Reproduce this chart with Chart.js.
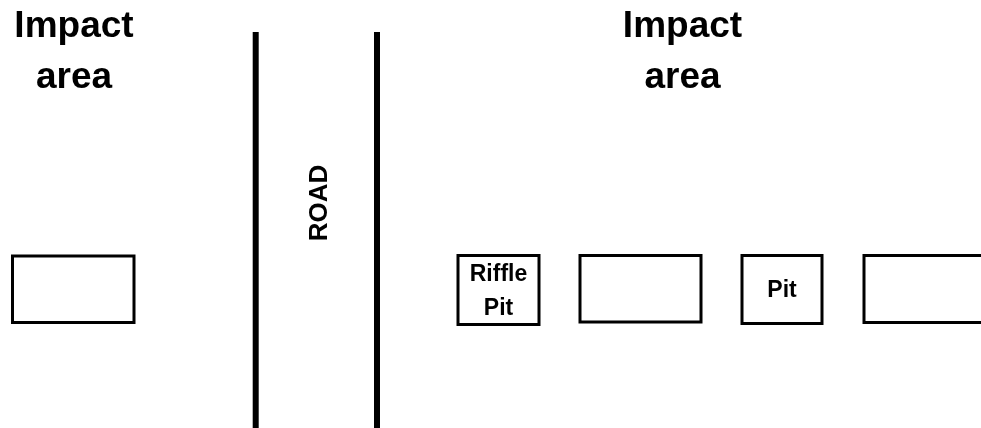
<!DOCTYPE html>
<html>
<head>
<meta charset="utf-8">
<script src="https://cdn.jsdelivr.net/npm/chart.js@4.4.1/dist/chart.umd.min.js"></script>
<style>
html,body{margin:0;padding:0;background:#fff;}
#c{display:block;}
</style>
</head>
<body>
<canvas id="c" width="981" height="428"></canvas>
<script>
// Diagram elements (data units = page pixels on a 981 x 428 plane, y downward)
const boxX0 = [12.5, 458, 580, 742, 864];
const boxX1 = [134, 539, 701, 822, 995];
const boxY0 = [256, 255.5, 255.5, 255.5, 255.5];
const boxY1 = [322.5, 324.5, 322, 323.5, 322.5];
const boxLabels = [[], ['Riffle', 'Pit'], [], ['Pit'], []];
const boxLabelBaselines = [[], [281, 315], [], [297], []];

const roadX = [255.7, 377];
const roadTop = [32, 32];
const roadBottom = [430, 430];
const roadLabel = 'ROAD';
const roadLabelPos = [327, 203];

const areaLabels = [['Impact', 'area'], ['Impact', 'area']];
const areaLabelX = [74, 682.5];
const areaLabelBaselines = [37, 88];

const datasets = [];
for (let i = 0; i < boxX0.length; i++) {
  datasets.push({
    data: [
      {x: boxX0[i], y: boxY0[i]}, {x: boxX1[i], y: boxY0[i]},
      {x: boxX1[i], y: boxY1[i]}, {x: boxX0[i], y: boxY1[i]},
      {x: boxX0[i], y: boxY0[i]}, {x: boxX1[i], y: boxY0[i]}
    ],
    borderColor: '#000', borderWidth: 3, borderJoinStyle: 'miter',
    pointRadius: 0, fill: false, tension: 0
  });
}
for (let i = 0; i < roadX.length; i++) {
  datasets.push({
    data: [{x: roadX[i], y: roadTop[i]}, {x: roadX[i], y: roadBottom[i]}],
    borderColor: '#000', borderWidth: 6, borderCapStyle: 'butt',
    pointRadius: 0, fill: false
  });
}

const textPlugin = {
  id: 'diagramText',
  afterDatasetsDraw(chart) {
    const ctx = chart.ctx, xs = chart.scales.x, ys = chart.scales.y;
    ctx.save();
    ctx.fillStyle = '#000';
    ctx.textAlign = 'center';
    ctx.textBaseline = 'alphabetic';
    ctx.font = 'bold 37px "Liberation Sans", Arial, sans-serif';
    areaLabels.forEach((lines, i) => {
      lines.forEach((t, j) => {
        ctx.fillText(t, xs.getPixelForValue(areaLabelX[i]), ys.getPixelForValue(areaLabelBaselines[j]));
      });
    });
    ctx.font = 'bold 23px "Liberation Sans", Arial, sans-serif';
    boxLabels.forEach((lines, i) => {
      const cx = (boxX0[i] + boxX1[i]) / 2;
      lines.forEach((t, j) => {
        ctx.fillText(t, xs.getPixelForValue(cx), ys.getPixelForValue(boxLabelBaselines[i][j]));
      });
    });
    ctx.font = 'bold 26px "Liberation Sans", Arial, sans-serif';
    ctx.translate(xs.getPixelForValue(roadLabelPos[0]), ys.getPixelForValue(roadLabelPos[1]));
    ctx.rotate(-Math.PI / 2);
    ctx.fillText(roadLabel, 0, 0);
    ctx.restore();
  }
};

new Chart(document.getElementById('c'), {
  type: 'line',
  data: { datasets },
  options: {
    responsive: false,
    animation: false,
    layout: { padding: 0 },
    plugins: { legend: { display: false }, tooltip: { enabled: false } },
    scales: {
      x: { type: 'linear', min: 0, max: 981, display: false },
      y: { type: 'linear', min: 0, max: 428, reverse: true, display: false }
    }
  },
  plugins: [textPlugin]
});
</script>
</body>
</html>
